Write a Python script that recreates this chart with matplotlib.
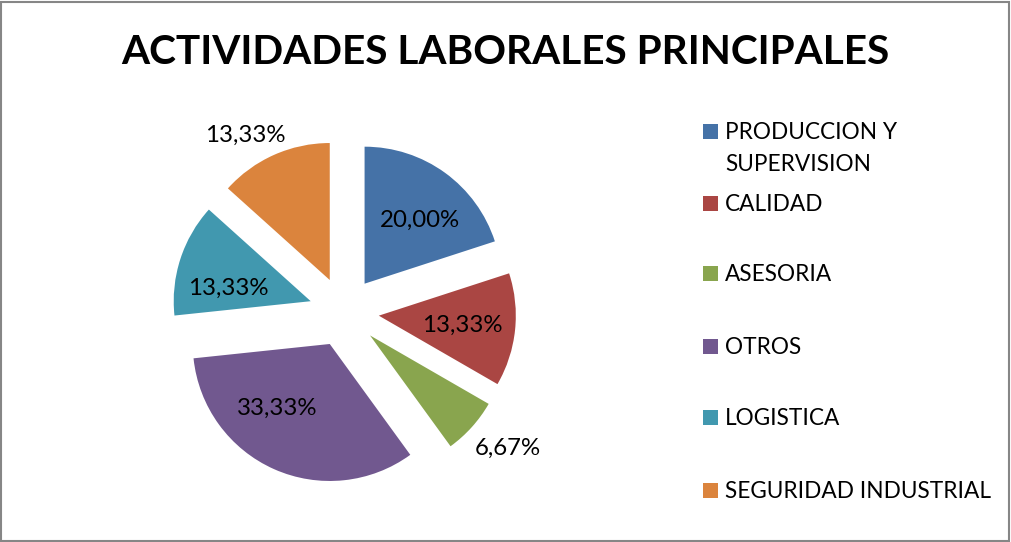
import matplotlib
matplotlib.use("Agg")
import matplotlib.pyplot as plt
from matplotlib.patches import Rectangle
import numpy as np

categories = ["PRODUCCION Y\nSUPERVISION", "CALIDAD", "ASESORIA", "OTROS",
              "LOGISTICA", "SEGURIDAD INDUSTRIAL"]
values = [20.00, 13.33, 6.67, 33.33, 13.33, 13.34]
pct_labels = ["20,00%", "13,33%", "6,67%", "33,33%", "13,33%", "13,33%"]
colors = ["#4572A7", "#AA4643", "#89A54E", "#71588F", "#4198AF", "#DB843D"]
title = "ACTIVIDADES LABORALES PRINCIPALES"

W, H = 1011, 542
plt.rcParams['font.family'] = ['Lato', 'DejaVu Sans']
fig = plt.figure(figsize=(W / 100, H / 100), dpi=100)
ax = fig.add_axes([0, 0, 1, 1])
ax.set_xlim(0, W)
ax.set_ylim(0, H)
ax.axis('off')

cx, cy = 344, H - 312
R = 137
expl = 35
wedges, _ = ax.pie(values, colors=colors, startangle=90, counterclock=False,
                   explode=[expl] * len(values), center=(cx, cy), radius=R,
                   wedgeprops=dict(linewidth=0))
ax.set_xlim(0, W)
ax.set_ylim(0, H)
ax.set_aspect('auto')

# label placement: radial distance (fraction of radius) and angular shift (deg, clockwise)
label_dist = [0.877, 0.866, 1.547, 0.848, 0.866, 1.487]
label_shift = [3.3, -0.2, -2.5, 11.0, -5.8, -5.0]
for w, lab, d, s in zip(wedges, pct_labels, label_dist, label_shift):
    ang = np.deg2rad((w.theta1 + w.theta2) / 2 - s)
    x = cx + d * R * np.cos(ang)
    y = cy + d * R * np.sin(ang) - 1.5
    ax.text(x, y, lab, ha='center', va='center', fontsize=17.3, color='black')

ax.text(W / 2, H - 52, title, ha='center', va='center', fontsize=29.2,
        fontweight='bold', color='black')

leg_y = [131, 203, 273, 346, 417, 490]
line_gap = 32
for lab, col, ly in zip(categories, colors, leg_y):
    ax.add_patch(Rectangle((703, H - ly - 7.5), 15, 15, facecolor=col, edgecolor='none'))
    for i, line in enumerate(lab.split("\n")):
        ax.text(725, H - ly - i * line_gap - 1.5, line, ha='left', va='center',
                fontsize=16.3, color='black')

fig.add_artist(Rectangle((0.001, 0.002), 0.997, 0.995, transform=fig.transFigure,
                         fill=False, edgecolor='#868686', linewidth=1.5))
fig.savefig("out.png", dpi=100)
